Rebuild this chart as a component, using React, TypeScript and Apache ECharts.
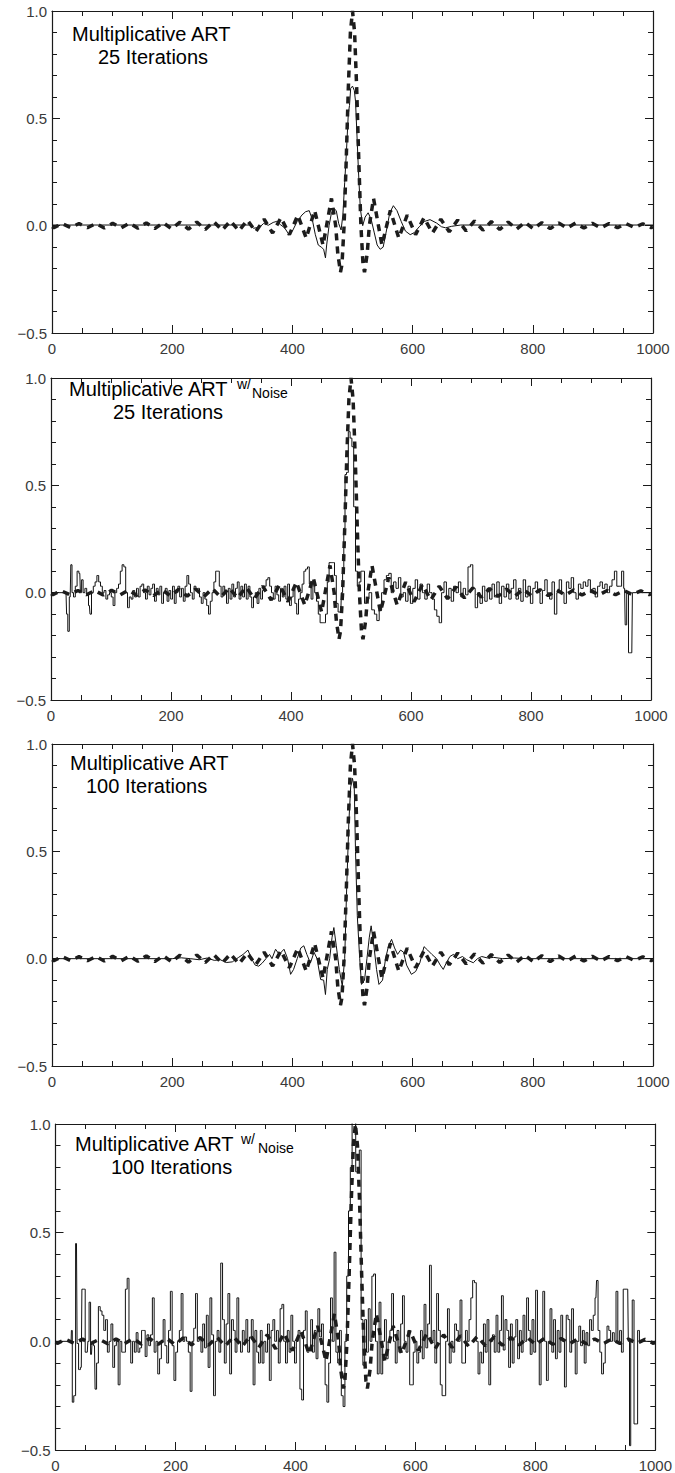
import React, { useEffect, useRef } from "react";
import * as echarts from "echarts";

// ---------- DATA ----------
const xTickLabels = ["0", "200", "400", "600", "800", "1000"];
const yTickLabels = ["-0.5", "0.0", "0.5", "1.0"];

const titleLine1 = "Multiplicative ART";
const panelSecondLines = ["25 Iterations", "25 Iterations", "100 Iterations", "100 Iterations"];
const panelHasNoise = [false, true, false, true];

// true signal (dashed), shared by all panels
const trueSignal: number[][] = [
  [0, -0.005], [3, -0.009], [17, 0.009], [31, -0.009], [45, 0.01], [59, -0.01], [73, 0.01], [87, -0.011],
  [101, 0.011], [115, -0.011], [129, 0.012], [143, -0.012], [157, 0.013], [171, -0.014], [185, 0.014],
  [199, -0.015], [213, 0.016], [227, -0.016], [241, 0.017], [255, -0.018], [269, 0.019], [283, -0.021],
  [297, 0.022], [311, -0.024], [325, 0.026], [339, -0.028], [353, 0.03], [367, -0.034], [381, 0.037],
  [395, -0.042], [409, 0.049], [423, -0.058], [437, 0.071], [451, -0.091], [465, 0.127], [472, 0.0],
  [475.5, -0.129], [480, -0.217], [482.5, -0.18], [486, 0.0], [489.5, 0.3], [493, 0.637], [496.5, 0.9],
  [500, 1.0], [503.5, 0.9], [507, 0.637], [510.5, 0.3], [514, 0.0], [517.5, -0.18], [520, -0.217],
  [524.5, -0.129], [528, 0.0], [535, 0.127], [549, -0.091], [563, 0.071], [577, -0.058], [591, 0.049],
  [605, -0.042], [619, 0.037], [633, -0.034], [647, 0.03], [661, -0.028], [675, 0.026], [689, -0.024],
  [703, 0.022], [717, -0.021], [731, 0.019], [745, -0.018], [759, 0.017], [773, -0.016], [787, 0.016],
  [801, -0.015], [815, 0.014], [829, -0.014], [843, 0.013], [857, -0.012], [871, 0.012], [885, -0.011],
  [899, 0.011], [913, -0.011], [927, 0.01], [941, -0.01], [955, 0.01], [969, -0.009], [983, 0.009],
  [997, -0.009], [1000, -0.005],
];

// reconstruction, 25 iterations, no noise
const recon25: number[][] = [
  [0, 0.003], [330, 0.003], [335, -0.012], [345, -0.008], [352, 0.01], [360, 0.002], [368, 0.015], [374, 0.02],
  [380, 0.005], [387, -0.01], [394, -0.04], [400, -0.025], [408, 0.02], [416, 0.05], [422, 0.065], [428, 0.07],
  [433, 0.03], [438, -0.04], [443, -0.09], [448, -0.1], [452, -0.11], [455, -0.15], [457, -0.09], [461, 0.0],
  [465, 0.06], [469, 0.08], [473, 0.07], [477, 0.01], [481, -0.02], [484, 0.05], [487, 0.2], [490, 0.35],
  [493, 0.52], [495, 0.56], [497, 0.64], [500, 0.65], [503, 0.63], [505, 0.58], [507, 0.45], [510, 0.25],
  [513, 0.08], [517, 0.0], [521, 0.04], [526, 0.06], [531, 0.03], [536, -0.03], [541, -0.09], [546, -0.11],
  [551, -0.1], [556, -0.03], [562, 0.06], [568, 0.093], [574, 0.07], [581, 0.02], [588, -0.025], [596, -0.042],
  [603, -0.032], [611, -0.005], [620, 0.02], [629, 0.028], [640, 0.012], [648, -0.005], [655, -0.01],
  [665, -0.003], [680, 0.003], [1000, 0.003],
];

// reconstruction, 25 iterations, with noise
const recon25Noise: number[][] = [
  [0, 0], [25, 0], [27, -0.1], [29, -0.18], [32, -0.02], [34, 0.13], [36, 0.0], [39, -0.02], [42, 0.03],
  [45, 0.1], [48, 0.09], [50, 0.0], [52, 0.06], [55, 0.0], [58, 0.02], [61, -0.01], [64, -0.06], [66, -0.1],
  [69, 0.0], [72, 0.03], [75, 0.05], [78, 0.08], [81, 0.05], [84, 0.03], [87, 0.0], [90, 0.01], [93, -0.03],
  [96, -0.01], [99, 0.0], [102, -0.02], [105, -0.06], [108, 0.0], [111, 0.02], [114, 0.04], [117, 0.1],
  [120, 0.13], [123, 0.12], [126, 0.0], [129, -0.07], [132, -0.02], [135, -0.03], [138, 0.01], [141, -0.02],
  [144, 0.02], [147, -0.02], [150, 0.03], [153, 0.04], [156, 0.0], [159, -0.03], [162, 0.03], [165, -0.01],
  [168, 0.02], [171, 0.04], [174, -0.04], [177, 0.02], [180, -0.01], [183, 0.03], [186, -0.05], [189, 0.0],
  [192, 0.02], [195, -0.04], [198, 0.01], [201, -0.03], [204, 0.03], [207, -0.05], [210, 0.0], [213, 0.03],
  [216, -0.02], [219, 0.02], [222, -0.04], [225, 0.03], [228, 0.08], [231, 0.04], [234, 0.0], [237, -0.03],
  [240, 0.03], [243, 0.01], [246, 0.02], [249, -0.02], [252, -0.05], [255, 0.0], [258, -0.03], [261, -0.06],
  [264, -0.1], [267, -0.04], [270, 0.0], [273, 0.05], [276, 0.1], [279, 0.1], [282, 0.03], [285, -0.02],
  [288, 0.03], [291, 0.0], [294, -0.05], [297, 0.02], [300, -0.03], [303, 0.04], [306, -0.02], [309, 0.02],
  [312, 0.05], [315, -0.03], [318, 0.03], [321, -0.02], [324, 0.04], [327, -0.03], [330, 0.03], [333, -0.02],
  [336, -0.07], [339, -0.02], [342, 0.0], [345, -0.05], [348, 0.02], [351, -0.03], [354, 0.01], [357, 0.03],
  [360, 0.06], [363, 0.07], [366, 0.03], [369, 0.0], [372, -0.03], [375, 0.03], [378, -0.01], [381, -0.04],
  [384, 0.02], [387, -0.02], [390, 0.03], [393, -0.03], [396, 0.04], [399, -0.06], [402, -0.02], [405, 0.02],
  [408, -0.05], [411, -0.1], [414, -0.03], [417, 0.0], [420, 0.04], [423, 0.1], [426, 0.11], [429, 0.12],
  [432, 0.04], [435, -0.03], [438, 0.05], [441, 0.0], [444, -0.04], [447, -0.1], [450, -0.14], [453, -0.14],
  [456, -0.14], [459, -0.1], [462, 0.05], [465, 0.14], [468, 0.14], [471, 0.14], [474, 0.08], [477, -0.05],
  [480, -0.09], [483, -0.09], [485, 0.0], [487, 0.1], [489, 0.3], [491, 0.55], [494, 0.56], [497, 0.75],
  [500, 0.72], [503, 0.68], [506, 0.4], [509, 0.1], [512, 0.03], [515, 0.05], [518, 0.1], [521, 0.1],
  [524, -0.05], [528, -0.03], [532, 0.0], [537, -0.08], [541, -0.1], [545, -0.13], [549, -0.08], [553, 0.0],
  [557, 0.06], [561, 0.08], [565, 0.09], [569, 0.0], [573, 0.05], [577, 0.02], [581, 0.07], [585, -0.02],
  [589, 0.0], [593, -0.04], [597, 0.03], [601, -0.05], [605, 0.02], [609, 0.06], [613, -0.03], [617, 0.04],
  [621, 0.0], [625, -0.03], [629, 0.04], [633, 0.0], [637, -0.03], [641, -0.08], [645, -0.11], [649, -0.14],
  [653, 0.0], [657, 0.05], [661, -0.02], [665, 0.02], [669, -0.04], [673, 0.03], [677, 0.0], [681, 0.05],
  [685, -0.02], [689, 0.02], [693, -0.01], [697, 0.12], [701, 0.13], [705, 0.02], [709, -0.07], [713, 0.0],
  [717, -0.05], [721, 0.03], [725, -0.04], [729, 0.02], [733, -0.03], [737, 0.04], [741, -0.02], [745, 0.05],
  [749, -0.05], [753, 0.03], [757, -0.02], [761, 0.04], [765, -0.03], [769, 0.02], [773, 0.06], [777, -0.03],
  [781, 0.02], [785, -0.04], [789, 0.06], [793, -0.02], [797, 0.03], [801, -0.05], [805, 0.02], [809, 0.05],
  [813, 0.0], [817, -0.05], [821, 0.01], [825, 0.06], [829, 0.0], [833, -0.03], [837, 0.05], [841, -0.1],
  [845, 0.0], [849, 0.06], [853, 0.0], [857, -0.05], [861, 0.05], [865, 0.02], [869, 0.07], [873, 0.0],
  [877, -0.03], [881, 0.04], [885, 0.02], [889, 0.05], [893, 0.03], [897, 0.06], [901, 0.0], [905, 0.02],
  [909, -0.02], [913, 0.03], [917, 0.05], [921, 0.02], [925, 0.04], [929, 0.0], [933, 0.03], [937, 0.06],
  [941, 0.1], [945, 0.03], [949, 0.03], [953, 0.1], [956, 0.02], [958, -0.15], [961, 0.0], [964, -0.28],
  [968, -0.28], [970, 0.0], [1000, 0.0],
];

// reconstruction, 100 iterations, no noise
const recon100: number[][] = [
  [0, 0], [200, 0.0], [215, 0.004], [230, 0.0], [245, -0.005], [258, 0.003], [270, -0.008], [280, -0.005],
  [290, -0.018], [300, -0.015], [310, 0.005], [318, 0.02], [326, 0.04], [332, 0.0], [338, -0.03], [344, -0.035],
  [350, -0.02], [356, 0.0], [362, 0.02], [366, 0.0], [372, 0.044], [378, 0.02], [386, 0.044], [392, 0.0],
  [397, -0.073], [402, -0.05], [408, 0.0], [414, 0.05], [419, 0.06], [424, 0.02], [430, -0.02], [436, 0.03],
  [441, 0.0], [447, -0.097], [452, -0.1], [455, -0.167], [458, -0.05], [462, 0.0], [466, 0.1], [469, 0.145],
  [473, 0.06], [478, -0.05], [483, -0.128], [487, 0.0], [490, 0.3], [494, 0.64], [497, 0.8], [500, 0.84],
  [503, 0.79], [505, 0.5], [508, 0.2], [512, 0.0], [515, -0.12], [520, -0.1], [524, 0.0], [528, 0.1],
  [531, 0.153], [536, 0.05], [540, -0.05], [544, -0.12], [550, -0.1], [555, 0.0], [560, 0.06], [565, 0.09],
  [570, 0.05], [575, 0.02], [580, 0.04], [585, 0.03], [590, -0.03], [598, -0.073], [605, -0.06], [612, -0.02],
  [619, 0.056], [625, 0.04], [632, 0.02], [640, 0.0], [646, -0.03], [651, -0.05], [656, -0.02], [662, 0.01],
  [668, 0.02], [675, 0.0], [683, 0.01], [690, -0.005], [701, -0.019], [708, 0.0], [715, 0.01], [725, 0.003],
  [735, 0.006], [750, 0.0], [770, 0.003], [790, 0.0], [1000, 0.0],
];

// reconstruction, 100 iterations, with noise
const recon100Noise: number[][] = [
  [0, 0], [26, 0], [27, 0.05], [29, -0.28], [32, -0.25], [35, 0.45], [37, -0.01], [40, -0.13], [43, -0.12],
  [45, 0.24], [48, 0.24], [51, -0.05], [53, -0.05], [55, 0.0], [57, 0.18], [60, -0.06], [62, 0.0], [65, -0.02],
  [67, -0.22], [70, -0.1], [73, 0.16], [76, 0.14], [79, 0.12], [82, 0.05], [85, 0.1], [88, -0.05], [91, 0.0],
  [94, 0.08], [97, -0.12], [100, -0.02], [103, 0.0], [106, -0.2], [109, 0.0], [112, -0.05], [115, -0.05],
  [118, 0.24], [121, 0.29], [124, 0.0], [127, -0.1], [130, 0.0], [133, -0.05], [136, 0.04], [139, -0.05],
  [142, -0.03], [145, 0.05], [148, 0.05], [151, -0.07], [154, 0.03], [157, -0.02], [160, 0.03], [163, 0.2],
  [166, -0.05], [169, 0.0], [172, -0.15], [175, -0.08], [178, 0.0], [181, 0.1], [184, -0.02], [187, -0.1],
  [190, 0.05], [193, 0.23], [196, -0.02], [199, -0.18], [202, -0.05], [205, 0.0], [208, 0.05], [211, 0.22],
  [214, 0.0], [217, 0.02], [220, 0.0], [223, -0.05], [226, -0.23], [229, 0.0], [232, 0.06], [235, 0.22],
  [238, 0.0], [241, 0.02], [244, -0.05], [247, 0.08], [250, -0.03], [253, 0.12], [256, -0.12], [259, 0.2],
  [262, 0.03], [265, -0.25], [268, 0.0], [271, 0.05], [274, -0.05], [277, 0.36], [280, 0.1], [283, -0.1],
  [286, 0.08], [289, 0.22], [292, -0.15], [295, 0.1], [298, 0.05], [301, -0.05], [304, 0.2], [307, 0.0],
  [310, -0.05], [313, 0.05], [316, 0.0], [319, 0.1], [322, -0.05], [325, 0.02], [328, 0.1], [331, -0.2],
  [334, 0.05], [337, -0.05], [340, -0.1], [343, 0.05], [346, -0.1], [349, 0.0], [352, -0.05], [355, 0.08],
  [358, -0.18], [361, 0.05], [364, 0.1], [367, 0.0], [370, 0.05], [373, -0.1], [376, 0.15], [379, 0.17],
  [382, 0.0], [385, -0.1], [388, 0.05], [391, -0.05], [394, 0.12], [397, 0.0], [400, -0.1], [403, 0.0],
  [406, 0.05], [409, -0.22], [412, -0.27], [415, 0.05], [418, 0.14], [421, -0.05], [424, -0.03], [427, 0.1],
  [430, -0.05], [433, 0.05], [436, -0.08], [439, 0.15], [442, 0.02], [445, 0.08], [448, -0.05], [451, -0.2],
  [454, -0.28], [457, -0.1], [460, 0.2], [463, 0.0], [466, 0.41], [469, -0.05], [472, -0.1], [475, 0.05],
  [478, -0.25], [481, -0.3], [484, 0.0], [487, 0.3], [490, 0.6], [493, 0.8], [496, 1.05], [499, 1.05],
  [502, 0.78], [505, 0.78], [508, 0.88], [511, 0.1], [514, -0.11], [517, 0.1], [520, -0.05], [523, 0.15],
  [526, 0.0], [529, 0.3], [532, 0.31], [535, 0.0], [538, -0.15], [541, 0.18], [544, -0.15], [547, 0.0],
  [550, 0.1], [553, -0.08], [556, 0.0], [559, 0.05], [562, 0.22], [565, 0.0], [568, -0.1], [571, 0.05],
  [574, -0.05], [577, 0.08], [580, 0.21], [583, 0.0], [586, -0.05], [589, 0.05], [592, -0.2], [595, -0.2],
  [598, -0.05], [601, 0.0], [604, -0.1], [607, -0.05], [610, 0.05], [613, -0.08], [616, 0.17], [619, -0.03],
  [622, 0.08], [625, 0.35], [628, 0.0], [631, 0.05], [634, -0.1], [637, 0.22], [640, 0.05], [643, -0.2],
  [646, -0.25], [649, -0.25], [652, 0.0], [655, 0.15], [658, -0.1], [661, 0.0], [664, -0.05], [667, 0.08],
  [670, 0.05], [673, 0.0], [676, 0.19], [679, -0.1], [682, -0.1], [685, 0.05], [688, 0.0], [691, 0.1],
  [694, 0.2], [697, 0.28], [700, 0.27], [703, 0.0], [706, -0.15], [709, -0.05], [712, -0.1], [715, 0.08],
  [718, -0.05], [721, 0.1], [724, -0.2], [727, 0.0], [730, 0.03], [733, -0.05], [736, 0.12], [739, -0.05],
  [742, 0.05], [745, 0.21], [748, -0.04], [751, 0.1], [754, 0.05], [757, -0.12], [760, 0.08], [763, -0.1],
  [766, 0.02], [769, 0.1], [772, -0.08], [775, 0.05], [778, -0.05], [781, 0.12], [784, 0.0], [787, 0.2],
  [790, 0.05], [793, -0.06], [796, 0.1], [799, -0.05], [802, 0.235], [805, 0.0], [808, -0.2], [811, 0.0],
  [814, 0.23], [817, 0.0], [820, -0.18], [823, 0.0], [826, 0.15], [829, -0.05], [832, 0.1], [835, -0.08],
  [838, 0.05], [841, -0.05], [844, 0.12], [847, 0.0], [850, -0.21], [853, 0.12], [856, 0.1], [859, -0.05],
  [862, 0.15], [865, 0.0], [868, -0.15], [871, 0.0], [874, 0.07], [877, -0.02], [880, 0.05], [883, -0.1],
  [886, 0.04], [889, -0.02], [892, 0.1], [895, 0.05], [898, 0.12], [901, 0.2], [903, 0.28], [906, 0.05],
  [909, -0.05], [912, -0.15], [915, -0.1], [918, 0.0], [921, 0.07], [924, 0.05], [927, 0.0], [930, 0.04],
  [933, 0.0], [936, 0.23], [939, 0.0], [942, 0.05], [945, -0.05], [948, 0.24], [951, 0.24], [954, 0.24],
  [956, 0.0], [958, -0.48], [960, 0.0], [963, 0.19], [966, -0.38], [969, -0.38], [972, 0.05], [975, 0.0],
  [1000, 0.0],
];

const reconstructions = [recon25, recon25Noise, recon100, recon100Noise];

// ---------- LAYOUT ----------
const W = 675;
const H = 1473;
const grids = [
  { left: 52, top: 11, width: 601, height: 322 },
  { left: 51, top: 378, width: 600, height: 322 },
  { left: 52, top: 744, width: 601, height: 322 },
  { left: 55.5, top: 1124, width: 603, height: 329 },
];
const titlePos = [
  { x1: 72, y1: 34, x2: 98, y2: 57, sx: 0, sy: 0, nx: 0 },
  { x1: 69, y1: 389, x2: 113, y2: 412, sx: 237, sy: 384, nx: 252 },
  { x1: 70, y1: 763, x2: 86, y2: 786, sx: 0, sy: 0, nx: 0 },
  { x1: 75, y1: 1144, x2: 111, y2: 1167, sx: 241, sy: 1139, nx: 258 },
];

const FONT = "'Liberation Sans', Arial, Helvetica, sans-serif";
const AXIS = "#1a1a1a";

function fmtY(v: number) {
  const s = v.toFixed(1);
  return s.startsWith("-") ? "\u2212" + s.slice(1) : s;
}

function buildOption() {
  const xAxis: any[] = [];
  const yAxis: any[] = [];
  const series: any[] = [];
  const graphic: any[] = [];

  grids.forEach((g, i) => {
    ["bottom", "top"].forEach((pos) => {
      xAxis.push({
        type: "value",
        gridIndex: i,
        position: pos,
        min: 0,
        max: 1000,
        interval: 200,
        axisLine: { show: true, onZero: false, lineStyle: { color: AXIS, width: 1.2 } },
        axisTick: { show: true, inside: true, length: 8, lineStyle: { color: AXIS, width: 1 } },
        minorTick: { show: true, splitNumber: 4, length: 5, lineStyle: { color: AXIS, width: 1 } },
        splitLine: { show: false },
        minorSplitLine: { show: false },
        axisLabel: {
          show: pos === "bottom",
          fontSize: 15,
          color: "#3a3a3a",
          fontFamily: FONT,
          margin: 8,
          showMinLabel: true,
          showMaxLabel: true,
          formatter: (v: number) => xTickLabels[Math.round(v / 200)] ?? String(v),
        },
      });
    });
    ["left", "right"].forEach((pos) => {
      yAxis.push({
        type: "value",
        gridIndex: i,
        position: pos,
        min: -0.5,
        max: 1.0,
        interval: 0.5,
        axisLine: { show: true, onZero: false, lineStyle: { color: AXIS, width: 1.2 } },
        axisTick: { show: true, inside: true, length: 8, lineStyle: { color: AXIS, width: 1 } },
        minorTick: { show: true, splitNumber: 5, length: 5, lineStyle: { color: AXIS, width: 1 } },
        splitLine: { show: false },
        minorSplitLine: { show: false },
        axisLabel: {
          show: pos === "left",
          fontSize: 15,
          color: "#3a3a3a",
          fontFamily: FONT,
          margin: 5,
          showMinLabel: true,
          showMaxLabel: true,
          formatter: (v: number) => {
            const idx = Math.round((v + 0.5) / 0.5);
            const lbl = yTickLabels[idx] ?? String(v);
            return fmtY(parseFloat(lbl));
          },
        },
      });
    });

    series.push({
      type: "line",
      xAxisIndex: 2 * i,
      yAxisIndex: 2 * i,
      data: reconstructions[i],
      symbol: "none",
      showSymbol: false,
      step: panelHasNoise[i] ? "middle" : false,
      lineStyle: { color: "#111", width: 1 },
      z: 2,
      clip: true,
    });
    series.push({
      type: "line",
      xAxisIndex: 2 * i,
      yAxisIndex: 2 * i,
      data: trueSignal,
      symbol: "none",
      showSymbol: false,
      lineStyle: { color: "#1c1c1c", width: 3.5, type: [7, 6], cap: "butt" },
      z: 3,
      clip: true,
    });

    const t = titlePos[i];
    graphic.push({
      type: "text",
      x: t.x1,
      y: t.y1,
      style: { text: titleLine1, font: `20px ${FONT}`, fill: "#000", verticalAlign: "middle", align: "left" },
    });
    graphic.push({
      type: "text",
      x: t.x2,
      y: t.y2,
      style: { text: panelSecondLines[i], font: `20px ${FONT}`, fill: "#000", verticalAlign: "middle", align: "left" },
    });
    if (panelHasNoise[i]) {
      graphic.push({
        type: "text",
        x: t.sx,
        y: t.sy,
        style: { text: "w/", font: `14px ${FONT}`, fill: "#000", verticalAlign: "middle", align: "left" },
      });
      graphic.push({
        type: "text",
        x: t.nx,
        y: t.sy + 9,
        style: { text: "Noise", font: `14px ${FONT}`, fill: "#000", verticalAlign: "middle", align: "left" },
      });
    }
  });

  return {
    animation: false,
    backgroundColor: "#fff",
    grid: grids.map((g) => ({ ...g, containLabel: false, show: false })),
    xAxis,
    yAxis,
    series,
    graphic,
  };
}

export default function App() {
  const ref = useRef<HTMLDivElement>(null);
  useEffect(() => {
    if (!ref.current) return;
    const chart = echarts.init(ref.current, undefined, { renderer: "svg", width: W, height: H });
    chart.setOption(buildOption() as any);
    return () => chart.dispose();
  }, []);
  return (
    <div
      ref={ref}
      style={{ position: "absolute", left: 0, top: 0, width: W, height: H, background: "#fff" }}
    />
  );
}
